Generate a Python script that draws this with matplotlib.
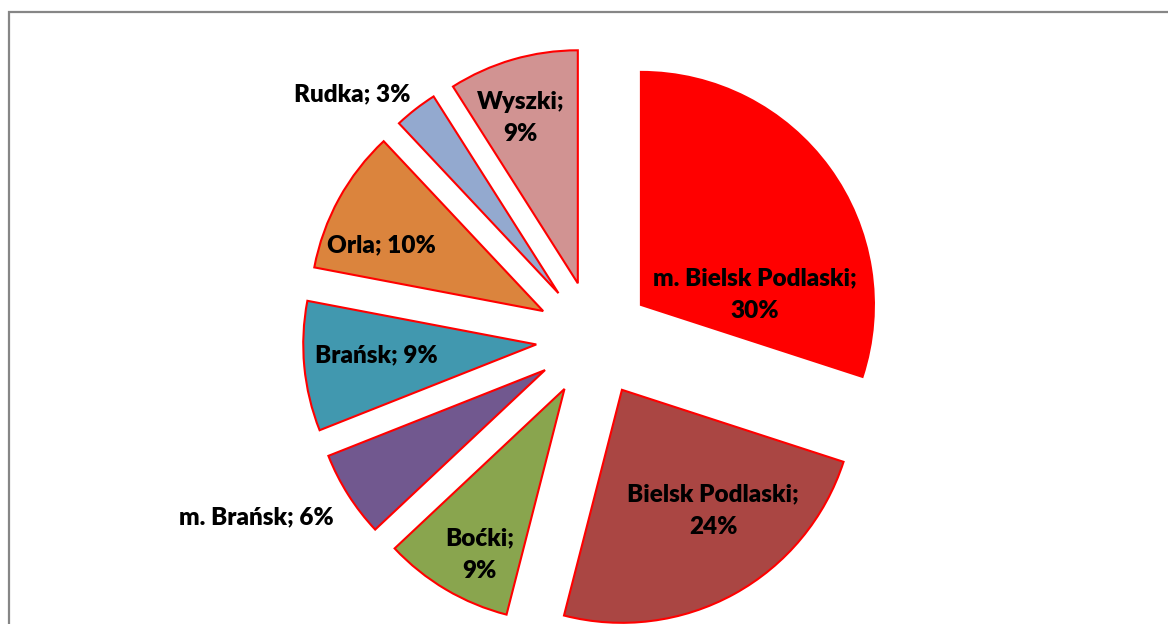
import numpy as np
import matplotlib
matplotlib.use("Agg")
import matplotlib.pyplot as plt
from matplotlib.patches import Rectangle

W, H = 1168, 624

# data
names = ["m. Bielsk Podlaski", "Bielsk Podlaski", "Boćki", "m. Brańsk",
         "Brańsk", "Orla", "Rudka", "Wyszki"]
shares = [30, 24, 9, 6, 9, 10, 3, 9]
colors = ["#FF0000", "#AA4643", "#89A54E", "#71588F",
          "#4198AF", "#DB843D", "#93A9CF", "#D19392"]

# label layout: (distance as fraction of radius, angle in deg) from wedge centre,
# and whether the label breaks after the semicolon
label_pos = [(0.49, 5), (0.65, -53), (0.80, 243), (1.39, 207),
             (0.69, 184), (0.75, 158), (1.23, 136), (0.75, 109)]
two_line = [True, True, True, False, False, False, False, True]

plt.rcParams["font.family"] = ["Lato", "DejaVu Sans"]

fig = plt.figure(figsize=(W / 100, H / 100), dpi=100)
ax = fig.add_axes([0, 0, 1, 1])

R = 233
wedges, _ = ax.pie(shares, colors=colors, startangle=90, counterclock=False,
                   radius=R, center=(594, H - 339), explode=[58] * len(shares),
                   wedgeprops=dict(edgecolor="#FF0000", linewidth=1.5),
                   frame=True)

for w, name, val, (fr, ang), tl in zip(wedges, names, shares, label_pos, two_line):
    cx, cy = w.center
    a = np.radians(ang)
    sep = ";\n" if tl else "; "
    ax.text(cx + fr * R * np.cos(a), cy + fr * R * np.sin(a), f"{name}{sep}{val}%",
            ha="center", va="center", fontsize=17.5, fontweight="heavy",
            linespacing=1.6, color="black")

ax.set_xlim(0, W)
ax.set_ylim(0, H)
ax.set_aspect("equal")
ax.axis("off")

# chart area border (extends past the right and bottom edges)
fig.patches.append(Rectangle((9 / W, -0.1), 1.2, 1.1 - 12 / H,
                             transform=fig.transFigure, fill=False,
                             edgecolor="#868686", linewidth=1.6))

fig.savefig("out.png", dpi=100)
